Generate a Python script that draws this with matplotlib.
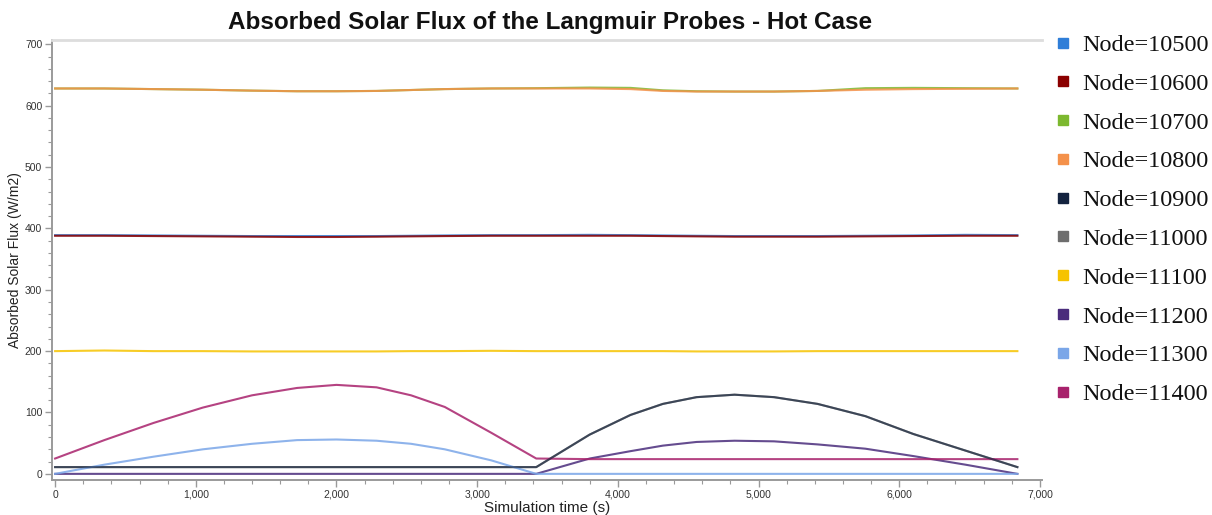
import matplotlib
matplotlib.use("Agg")
import matplotlib.pyplot as plt
from matplotlib.lines import Line2D
from matplotlib.ticker import MultipleLocator, FuncFormatter

# Simulation time samples (s)
time_s = [0, 350, 700, 1050, 1400, 1720, 2000, 2285, 2530, 2770, 3100, 3420,
          3800, 4090, 4320, 4560, 4830, 5110, 5420, 5760, 6100, 6470, 6840]

# Absorbed solar flux per node (W/m2)
node_10500 = [389, 389, 388.5, 388, 387.5, 387.5, 387.5, 387.5, 388, 388.5, 389, 389,
              389.5, 389, 388.5, 388, 387.5, 387.5, 387.5, 388, 388.5, 389.5, 389]
node_10600 = [388, 388, 387.5, 387, 386.5, 386, 386, 386.5, 387, 387.5, 388, 388,
              388, 388, 387.5, 387, 386.5, 386.5, 386.5, 387, 387.5, 388, 388]
node_10700 = [628, 628, 627, 626, 624.5, 623.5, 623.5, 624, 625.5, 627, 628, 628.5,
              629.5, 629, 625, 623.5, 623, 623, 624, 628.5, 629, 628.5, 628]
node_10800 = [628, 628, 627, 626, 624.5, 623.5, 623.5, 624, 625.5, 627, 628, 628,
              628, 627, 624, 623, 623, 623, 624, 626, 627, 627.5, 628]
node_10900 = [11, 11, 11, 11, 11, 11, 11, 11, 11, 11, 11, 11,
              64, 96, 114, 125, 129, 125, 114, 94, 65, 38, 11]
node_11000 = [11, 11, 11, 11, 11, 11, 11, 11, 11, 11, 11, 11,
              64, 96, 114, 125, 129, 125, 114, 94, 65, 38, 11]
node_11100 = [200, 201, 200, 200, 199.5, 199.5, 199.5, 199.5, 200, 200, 200.5, 200,
              200, 200, 200, 199.5, 199.5, 199.5, 200, 200, 200, 200, 200]
node_11200 = [0, 0, 0, 0, 0, 0, 0, 0, 0, 0, 0, 0,
              25, 37, 46, 52, 54, 53, 48, 41, 29, 15, 0]
node_11300 = [0, 15, 28, 40, 49, 55, 56, 54, 49, 40, 22, 0,
              0, 0, 0, 0, 0, 0, 0, 0, 0, 0, 0]
node_11400 = [25, 55, 83, 108, 128, 140, 145, 141, 128, 109, 67, 25,
              24, 24, 24, 24, 24, 24, 24, 24, 24, 24, 24]

labels = ["Node=10500", "Node=10600", "Node=10700", "Node=10800", "Node=10900",
          "Node=11000", "Node=11100", "Node=11200", "Node=11300", "Node=11400"]
series = [node_10500, node_10600, node_10700, node_10800, node_10900,
          node_11000, node_11100, node_11200, node_11300, node_11400]
colors = ["#2f7ed8", "#8b0000", "#7cb82f", "#f4914a", "#13233f",
          "#6d6d6d", "#f6c300", "#4a2c7c", "#7aa6e8", "#a8226c"]
# draw order and opacity: the navy node sits on top of the grey one
zorders = [2, 3, 2, 3, 3.5, 2, 2, 2, 2, 2]
alphas = [0.85, 0.85, 0.85, 0.85, 0.6, 0.9, 0.85, 0.85, 0.85, 0.85]

fig = plt.figure(figsize=(12.12, 5.15), dpi=100)
ax = fig.add_axes([52 / 1212, 1 - 480 / 515, 990 / 1212, 440 / 515])

for vals, col, lab, z, a in zip(series, colors, labels, zorders, alphas):
    ax.plot(time_s, vals, color=col, lw=1.5, alpha=a, label=lab, zorder=z)

ax.set_xlim(-22, 7015)
ax.set_ylim(-10, 707)

ax.xaxis.set_major_locator(MultipleLocator(1000))
ax.xaxis.set_minor_locator(MultipleLocator(200))
ax.yaxis.set_major_locator(MultipleLocator(100))
ax.yaxis.set_minor_locator(MultipleLocator(20))
ax.xaxis.set_major_formatter(FuncFormatter(lambda v, p: f"{int(v):,}"))
ax.yaxis.set_major_formatter(FuncFormatter(lambda v, p: f"{int(v)}"))

for side in ("left", "bottom"):
    ax.spines[side].set_color("#9a9a9a")
    ax.spines[side].set_linewidth(1.4)
ax.spines["right"].set_visible(False)
ax.spines["top"].set_color("#dddddd")
ax.spines["top"].set_linewidth(2)

ax.tick_params(axis="both", which="major", length=5, width=1, color="#9a9a9a",
               labelsize=7.5, labelcolor="#333333", pad=2)
ax.tick_params(axis="both", which="minor", length=3, width=0.8, color="#9a9a9a")

ax.set_xlabel("Simulation time (s)", fontsize=11, family="Liberation Sans",
              color="#222222", labelpad=1)
ax.set_ylabel("Absorbed Solar Flux (W/m2)", fontsize=10, family="Liberation Sans",
              color="#222222", labelpad=2)
for t in ax.get_xticklabels() + ax.get_yticklabels():
    t.set_family("Liberation Sans")

fig.text(550 / 1212, 1 - 22 / 515, "Absorbed Solar Flux of the Langmuir Probes - Hot Case",
         ha="center", va="center", fontsize=17.5, fontweight="bold",
         family="Liberation Sans", color="#111111")

handles = [Line2D([], [], ls="none", marker="s", markersize=6.5, color=c) for c in colors]
leg = fig.legend(handles, labels, loc="upper left", bbox_to_anchor=(1054 / 1212, 1 - 34 / 515),
                 frameon=False, prop={"family": "Liberation Serif", "size": 17.5},
                 handlelength=0.7, handletextpad=0.45, labelspacing=0.69, borderpad=0,
                 borderaxespad=0)
for t in leg.get_texts():
    t.set_color("#111111")

fig.savefig("out.png", dpi=100)
